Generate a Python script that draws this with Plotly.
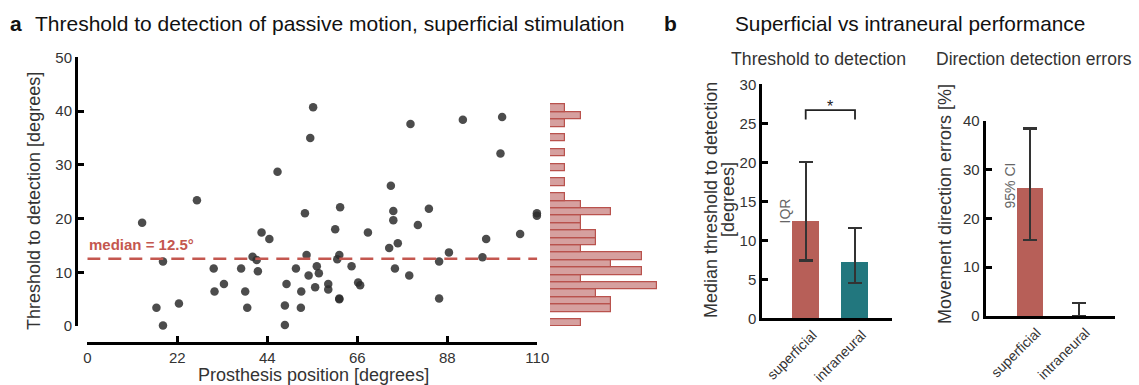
import plotly.graph_objects as go

# ---------------- data ----------------
# panel a: scatter of threshold vs prosthesis position
pos_deg = [55.2, 54.5, 46.5, 26.8, 13.4, 53.2, 42.6, 44.5, 18.5, 40.4,
           41.4, 53.6, 30.9, 37.6, 41.7, 51.0, 56.1, 54.1, 56.6, 33.4,
           31.1, 38.6, 48.7, 52.3, 55.7, 16.9, 22.4, 39.1, 48.3, 52.2,
           18.5, 48.3, 79.0, 91.8, 101.4, 101.0, 74.2, 61.8, 74.8, 74.8,
           83.5, 109.9, 109.9, 60.6, 68.6, 80.8, 97.5, 105.8, 73.8, 75.9,
           88.4, 61.6, 61.1, 96.6, 86.0, 64.6, 75.2, 78.7, 58.9, 58.9,
           66.2, 66.7, 61.6, 61.6, 86.0]
thr_deg = [40.7, 35.0, 28.7, 23.4, 19.2, 21.0, 17.4, 16.2, 12.0, 12.9,
           12.3, 13.2, 10.7, 10.7, 10.2, 10.7, 11.1, 9.4, 9.8, 7.8,
           6.4, 6.4, 7.8, 6.4, 7.2, 3.4, 4.2, 3.4, 3.8, 3.4,
           0.1, 0.2, 37.6, 38.4, 38.9, 32.1, 26.1, 22.1, 21.4, 19.7,
           21.8, 21.0, 20.5, 18.0, 17.4, 18.8, 16.2, 17.1, 14.5, 15.4,
           13.7, 13.2, 12.4, 12.8, 12.0, 11.1, 10.7, 9.4, 7.8, 6.8,
           8.1, 7.6, 5.1, 5.0, 5.1]
median_value = 12.5

# marginal histogram (counts per bin, bottom bin first)
hist_counts = [2, 0, 4, 4, 3, 7, 2, 6, 4, 6, 2, 3, 3, 2, 2,
               4, 2, 1, 0, 1, 0, 1, 0, 1, 0, 1, 0, 1, 2, 1]
hist_bin_start = -0.13
hist_bin_width = 1.377

x_ticks = [0, 22, 44, 66, 88, 110]

# panel b
groups = ["superficial", "intraneural"]
thr_median = [12.5, 7.2]
thr_q3 = [20.0, 11.6]
thr_q1 = [7.4, 4.5]
err_pct = [26.2, 0.0]
err_ci_hi = [38.4, 2.7]
err_ci_lo = [15.6, 0.0]
sig1_y = [25.5, 26.7]
sig2_y = [40.4, 42.2]

# ---------------- style ----------------
W, H = 1139, 385
FONT = "Liberation Sans, Arial, Helvetica, sans-serif"
RED = "#b75f58"
TEAL = "#22777e"
DASHRED = "#c4574f"
TXT = "#333333"


def px(x):
    return x / W


def py(y):
    return 1 - y / H


fig = go.Figure()

# scatter
fig.add_trace(go.Scatter(
    x=pos_deg, y=thr_deg, mode="markers",
    marker=dict(size=8.5, color="rgba(45,45,45,0.85)", line=dict(width=0)),
    cliponaxis=False, xaxis="x", yaxis="y", showlegend=False, hoverinfo="x+y"))

# median line
fig.add_trace(go.Scatter(
    x=[x_ticks[0], x_ticks[-1]], y=[median_value, median_value], mode="lines",
    line=dict(color=DASHRED, width=2.5, dash="13px,8px"),
    xaxis="x", yaxis="y", showlegend=False, hoverinfo="skip"))

# histogram
centers = [hist_bin_start + hist_bin_width * (i + 0.5) for i in range(len(hist_counts))]
fig.add_trace(go.Bar(
    x=[c if c > 0 else None for c in hist_counts], y=centers, orientation="h",
    width=hist_bin_width,
    marker=dict(color="rgba(196,120,118,0.7)", line=dict(color="#b9524d", width=1.2)),
    xaxis="x3", yaxis="y3", showlegend=False))

# bar chart 1
fig.add_trace(go.Bar(
    x=groups, y=thr_median, width=0.54,
    marker=dict(color=[RED, TEAL], line=dict(width=0)),
    error_y=dict(type="data", symmetric=False,
                 array=[h - m for h, m in zip(thr_q3, thr_median)],
                 arrayminus=[m - l for m, l in zip(thr_median, thr_q1)],
                 color="#333333", thickness=2.2, width=7),
    xaxis="x4", yaxis="y4", showlegend=False))
fig.add_trace(go.Scatter(
    x=[groups[0], groups[0], groups[1], groups[1]],
    y=[sig1_y[0], sig1_y[1], sig1_y[1], sig1_y[0]], mode="lines",
    line=dict(color="#222222", width=1.8), cliponaxis=False,
    xaxis="x4", yaxis="y4", showlegend=False, hoverinfo="skip"))

# bar chart 2
fig.add_trace(go.Bar(
    x=groups, y=err_pct, width=0.54,
    marker=dict(color=[RED, TEAL], line=dict(width=0)),
    error_y=dict(type="data", symmetric=False,
                 array=[h - m for h, m in zip(err_ci_hi, err_pct)],
                 arrayminus=[m - l for m, l in zip(err_pct, err_ci_lo)],
                 color="#333333", thickness=2.2, width=7),
    cliponaxis=False,
    xaxis="x5", yaxis="y5", showlegend=False))
fig.add_trace(go.Scatter(
    x=[groups[0], groups[0], groups[1], groups[1]],
    y=[sig2_y[0], sig2_y[1], sig2_y[1], sig2_y[0]], mode="lines",
    line=dict(color="#222222", width=1.8), cliponaxis=False,
    xaxis="x5", yaxis="y5", showlegend=False, hoverinfo="skip"))

axis_common = dict(showline=True, linecolor="black", linewidth=3, ticks="inside",
                   ticklen=6, tickwidth=2.5, tickcolor="black", showgrid=False,
                   zeroline=False, automargin=False,
                   tickfont=dict(family=FONT, size=15, color=TXT))
xcat_common = dict(showline=True, linecolor="black", linewidth=3, ticks="",
                   tickangle=-45, showgrid=False, zeroline=False, automargin=False,
                   ticklabelshift=7, ticklabelstandoff=0,
                   tickfont=dict(family=FONT, size=14, color=TXT))

fig.update_layout(
    width=W, height=H, margin=dict(l=0, r=0, t=0, b=0, autoexpand=False),
    plot_bgcolor="white", paper_bgcolor="white",
    font=dict(family=FONT, color=TXT), bargap=0,
    xaxis=dict(domain=[px(87.3), px(537.3)], range=[0, 110], tickvals=x_ticks,
               anchor="free", position=py(343), **axis_common),
    yaxis=dict(domain=[py(326), py(57.3)], range=[0, 50], dtick=10,
               anchor="free", position=px(76), **axis_common),
    xaxis3=dict(domain=[px(550), px(550 + 7.2 * 15.3)], range=[0, 7.2],
                visible=False, anchor="y3", automargin=False),
    yaxis3=dict(domain=[py(326), py(57.3)], range=[0, 50], visible=False,
                anchor="x3", automargin=False),
    xaxis4=dict(domain=[px(762.3), px(891.7)], range=[-0.88, 1.744], anchor="y4",
                **xcat_common),
    yaxis4=dict(domain=[py(318.3), py(84.3)], range=[0, 30], dtick=5, anchor="x4",
                **axis_common),
    xaxis5=dict(domain=[px(985.7), px(1115)], range=[-0.898, 1.741], anchor="y5",
                **xcat_common),
    yaxis5=dict(domain=[py(316), py(120.7)], range=[0, 40], dtick=10, anchor="x5",
                **axis_common),
)

ann = []


def add(text, x, y, size, color="#222222", angle=0, xa="center", ya="middle",
        xref="paper", yref="paper", bold=False):
    if bold:
        text = f"<b>{text}</b>"
    ann.append(dict(text=text, x=x, y=y, xref=xref, yref=yref, showarrow=False,
                    textangle=angle, xanchor=xa, yanchor=ya,
                    font=dict(family=FONT, size=size, color=color)))


add("a", px(8), py(23), 21, "#111111", xa="left", bold=True)
add("Threshold to detection of passive motion, superficial stimulation",
    px(33), py(23), 21, "#111111", xa="left")
add("b", px(662), py(23), 21, "#111111", xa="left", bold=True)
add("Superficial vs intraneural performance", px(733), py(23), 20.8, "#111111", xa="left")

add("Threshold to detection [degrees]", px(34), py(201), 18, TXT, angle=-90)
add("Prosthesis position [degrees]", px(313), py(375), 18, TXT)
add(f"median = {median_value}°", 0, py(244), 15, DASHRED, xa="left", bold=True,
    xref="x", yref="paper")

add("Threshold to detection", px(818), py(59), 17.7, TXT)
add("Median threshold to detection", px(711), py(200), 18, TXT, angle=-90)
add("[degrees]", px(728), py(200), 18, TXT, angle=-90)
add("IQR", px(784.5), py(211), 14, "#666666", angle=-90)
add("*", 0.5, sig1_y[1] + 0.4, 16, "#222222", xref="x4", yref="y4")

add("Direction detection errors", px(1034), py(59), 17.5, TXT)
add("Movement direction errors [%]", px(945), py(204), 18, TXT, angle=-90)
add("95% CI", px(1009.5), py(186), 14, "#666666", angle=-90)
add("*", 0.5, sig2_y[1] + 0.8, 16, "#222222", xref="x5", yref="y5")

fig.update_layout(annotations=ann)
fig.write_html("out.html")
